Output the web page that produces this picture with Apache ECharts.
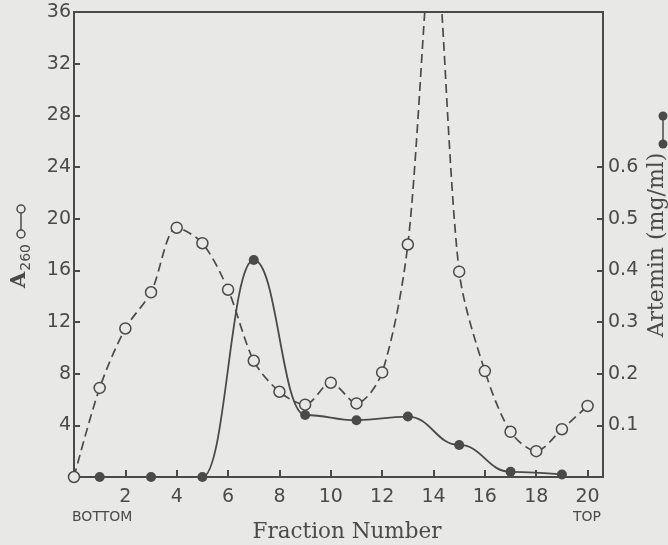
<!DOCTYPE html>
<html>
<head>
<meta charset="utf-8">
<script src="https://cdn.jsdelivr.net/npm/echarts@6/dist/echarts.min.js"></script>
<style>
  html, body { margin: 0; padding: 0; background: #e8e8e6; }
  #chart { width: 668px; height: 545px; }
</style>
</head>
<body>
<div id="chart"></div>
<script>
// fraction numbers (bottom -> top of gradient)
const fractions = [0, 1, 2, 3, 4, 5, 6, 7, 8, 9, 10, 11, 12, 13, 14, 15, 16, 17, 18, 19, 20];
// A260, open circles, dashed line (fraction 14 runs off the top of the plot)
const a260 = [0, 6.9, 11.5, 14.3, 19.3, 18.1, 14.5, 9.0, 6.6, 5.6, 7.3, 5.7, 8.1, 18.0, 42, 15.9, 8.2, 3.5, 2.0, 3.7, 5.5];
// artemin, filled circles, solid line
const artFractions = [1, 3, 5, 7, 9, 11, 13, 15, 17, 19];
const artemin = [0, 0, 0, 0.42, 0.12, 0.11, 0.117, 0.062, 0.01, 0.005];
// tick labels
const xTicks = [2, 4, 6, 8, 10, 12, 14, 16, 18, 20];
const leftTicks = [4, 8, 12, 16, 20, 24, 28, 32, 36];
const rightTicks = [0.1, 0.2, 0.3, 0.4, 0.5, 0.6];

const ink = '#4a4a4a';
const bg = '#e8e8e6';
const numFont = 'DejaVu Sans';
const titleFont = 'DejaVu Serif';

let chart = echarts.init(document.getElementById('chart'));

let option = {
    backgroundColor: bg,
    animation: false,
    grid: {
        left: 74, right: 65, top: 12, bottom: 68,
        show: true, borderColor: ink, borderWidth: 2
    },
    xAxis: {
        type: 'value', min: 0, max: 20.6,
        axisLine: { lineStyle: { color: ink, width: 2 } },
        axisTick: { inside: true, length: 7, customValues: xTicks, lineStyle: { color: ink, width: 2 } },
        axisLabel: { customValues: xTicks, color: ink, fontFamily: numFont, fontSize: 19, margin: 11 },
        splitLine: { show: false }
    },
    yAxis: [{
        type: 'value', min: 0, max: 36,
        axisLine: { show: true, lineStyle: { color: ink, width: 2 } },
        axisTick: { show: true, inside: true, length: 6, customValues: leftTicks.slice(0, -1), lineStyle: { color: ink, width: 2 } },
        axisLabel: { customValues: leftTicks, color: ink, fontFamily: numFont, fontSize: 19, margin: 3 },
        splitLine: { show: false }
    }, {
        type: 'value', min: 0, max: 0.9, position: 'right',
        axisLine: { show: true, lineStyle: { color: ink, width: 2 } },
        axisTick: { show: true, inside: true, length: 6, customValues: rightTicks, lineStyle: { color: ink, width: 2 } },
        axisLabel: {
            customValues: rightTicks, color: ink, fontFamily: numFont, fontSize: 19, margin: 5,
            formatter: v => v.toFixed(1)
        },
        splitLine: { show: false }
    }],
    series: [{
        type: 'line',
        yAxisIndex: 1,
        data: artFractions.map((f, i) => [f, artemin[i]]),
        smooth: 0.45,
        smoothMonotone: 'x',
        symbol: 'circle', symbolSize: 10,
        itemStyle: { color: ink },
        lineStyle: { color: ink, width: 1.8, type: 'solid' },
        z: 3
    }, {
        type: 'line',
        yAxisIndex: 0,
        data: fractions.map((f, i) => [f, a260[i]]),
        smooth: 0.3,
        symbol: 'circle', symbolSize: 11,
        itemStyle: { color: bg, borderColor: ink, borderWidth: 1.5 },
        lineStyle: { color: ink, width: 1.7, type: [9, 5] },
        z: 4
    }],
    graphic: [
        { type: 'text', left: 72, top: 510, style: { text: 'BOTTOM', fill: ink, font: '14px "DejaVu Sans"' } },
        { type: 'text', right: 67, top: 510, style: { text: 'TOP', fill: ink, font: '14px "DejaVu Sans"' } },
        { type: 'text', x: 347, y: 532, style: { text: 'Fraction Number', fill: ink, font: '21.5px "DejaVu Serif"', align: 'center', verticalAlign: 'middle' } },
        // left axis title with open-circle key
        {
            type: 'text', x: 20, y: 266, rotation: Math.PI / 2,
            style: {
                text: '{a|A}{s|260}', align: 'center', verticalAlign: 'middle', fill: ink,
                rich: {
                    a: { fontFamily: titleFont, fontSize: 21, fontWeight: 'bold', fill: ink },
                    s: { fontFamily: numFont, fontSize: 14, fill: ink, padding: [12, 0, 0, 1] }
                }
            }
        },
        { type: 'line', shape: { x1: 21, y1: 211, x2: 21, y2: 233 }, style: { stroke: ink, lineWidth: 1.5 } },
        { type: 'circle', shape: { cx: 21, cy: 209, r: 4 }, style: { fill: bg, stroke: ink, lineWidth: 1.5 } },
        { type: 'circle', shape: { cx: 21, cy: 234, r: 4 }, style: { fill: bg, stroke: ink, lineWidth: 1.5 } },
        // right axis title with filled-circle key
        {
            type: 'text', x: 657, y: 245, rotation: Math.PI / 2,
            style: { text: 'Artemin (mg/ml)', fill: ink, font: '22px "DejaVu Serif"', align: 'center', verticalAlign: 'middle' }
        },
        { type: 'line', shape: { x1: 663, y1: 116, x2: 663, y2: 144 }, style: { stroke: ink, lineWidth: 1.5 } },
        { type: 'circle', shape: { cx: 663, cy: 116, r: 4.5 }, style: { fill: ink } },
        { type: 'circle', shape: { cx: 663, cy: 144, r: 4.5 }, style: { fill: ink } }
    ]
};

chart.setOption(option);
</script>
</body>
</html>
